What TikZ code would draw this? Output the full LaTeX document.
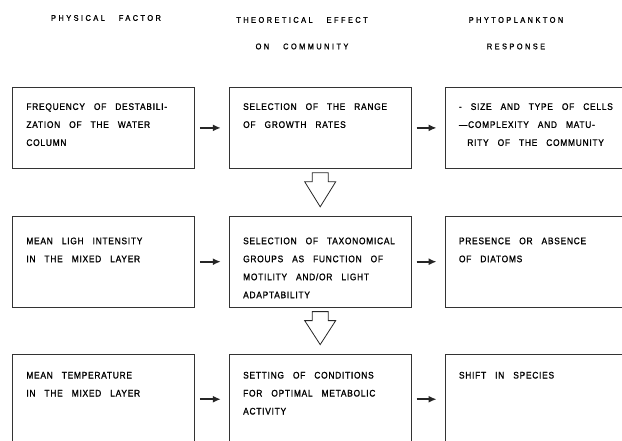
\documentclass[tikz,border=0pt]{standalone}
\usepackage{fontspec}
\usetikzlibrary{positioning,calc,arrows.meta}
\newfontfamily\stencilfont[LetterSpace=8,FakeBold=1.2,FakeStretch=0.88,Ligatures=TeX]{Liberation Sans}
\newfontfamily\headfamily[LetterSpace=30,FakeBold=1.2,FakeStretch=0.9]{Liberation Sans}

\begin{document}
\begin{tikzpicture}[x=1pt, y=-1pt,
  box/.style = {draw=black!80, line width=0.8pt, inner xsep=14pt, inner ysep=0pt,
    align=left, font=\stencilfont\fontsize{9.5}{18}\selectfont,
    execute at begin node={\spaceskip=9pt\rightskip=-18pt plus 1fil\relax}},
  wide/.style = {text width=154pt},
  narrow/.style = {text width=149pt},
  rowone/.style = {text height=22.5pt, text depth=58.5pt},
  rowtwo/.style = {text height=28pt, text depth=63pt},
  rowthree/.style = {text height=24.5pt, text depth=66pt},
  head/.style = {align=center, font=\headfamily\fontsize{8.2}{26.5}\selectfont,
    execute at begin node={\spaceskip=14pt\relax}},
  flow/.style = {-{Latex[length=8pt,width=7pt]}, line width=2pt, black!85,
    shorten <=5pt, shorten >=8pt},
  hollow/.style = {draw=black!85, line width=0.8pt, line join=miter}]
  \useasboundingbox (0,0) rectangle (622,441);
  % column heads
  \node[head] (hphys) at (106,18) {PHYSICAL FACTOR};
  \node[head, anchor=north] (heff) at (302,13.5) {THEORETICAL EFFECT\\ON COMMUNITY};
  \node[head, anchor=north] (hresp) at (516,13.5) {PHYTOPLANKTON\\RESPONSE};
  % first row
  \node[box, wide, rowone, anchor=north west] (phys1) at (12,87)
    {FREQUENCY OF DESTABILI-\\ZATION OF THE WATER\\COLUMN};
  \node[box, wide, rowone] (eff1) [right=34pt of phys1]
    {SELECTION OF THE RANGE\\OF GROWTH RATES};
  \node[box, narrow, rowone] (resp1) [right=33pt of eff1]
    {- SIZE AND TYPE OF CELLS\\---COMPLEXITY AND MATU-\\\hphantom{---}RITY OF THE COMMUNITY};
  % second row
  \node[box, wide, rowtwo] (phys2) [below=47pt of phys1]
    {MEAN LIGH INTENSITY\\IN THE MIXED LAYER};
  \node[box, wide, rowtwo] (eff2) [right=34pt of phys2]
    {SELECTION OF TAXONOMICAL\\GROUPS AS FUNCTION OF\\MOTILITY AND/OR LIGHT\\ADAPTABILITY};
  \node[box, narrow, rowtwo] (resp2) [right=33pt of eff2]
    {PRESENCE OR ABSENCE\\OF DIATOMS};
  % third row
  \node[box, wide, rowthree] (phys3) [below=46pt of phys2]
    {MEAN TEMPERATURE\\IN THE MIXED LAYER};
  \node[box, wide, rowthree] (eff3) [right=34pt of phys3]
    {SETTING OF CONDITIONS\\FOR OPTIMAL METABOLIC\\ACTIVITY};
  \node[box, narrow, rowthree] (resp3) [right=33pt of eff3]
    {SHIFT IN SPECIES};
  % arrows
  \foreach \r in {1,2,3} {
    \draw[flow] (phys\r) -- (eff\r);
    \draw[flow] (eff\r) -- (resp\r);
  }
  \foreach \a/\b in {eff1/eff2, eff2/eff3}
    \draw[hollow] ($(\a.south)+(-8,4)$) -- ($(\a.south)+(-8,13)$)
      -- ($(\a.south)+(-15.5,13)$) -- ($(\b.north)+(0,-9)$)
      -- ($(\a.south)+(15.5,13)$) -- ($(\a.south)+(8,13)$)
      -- ($(\a.south)+(8,4)$) -- cycle;
\end{tikzpicture}
\end{document}
